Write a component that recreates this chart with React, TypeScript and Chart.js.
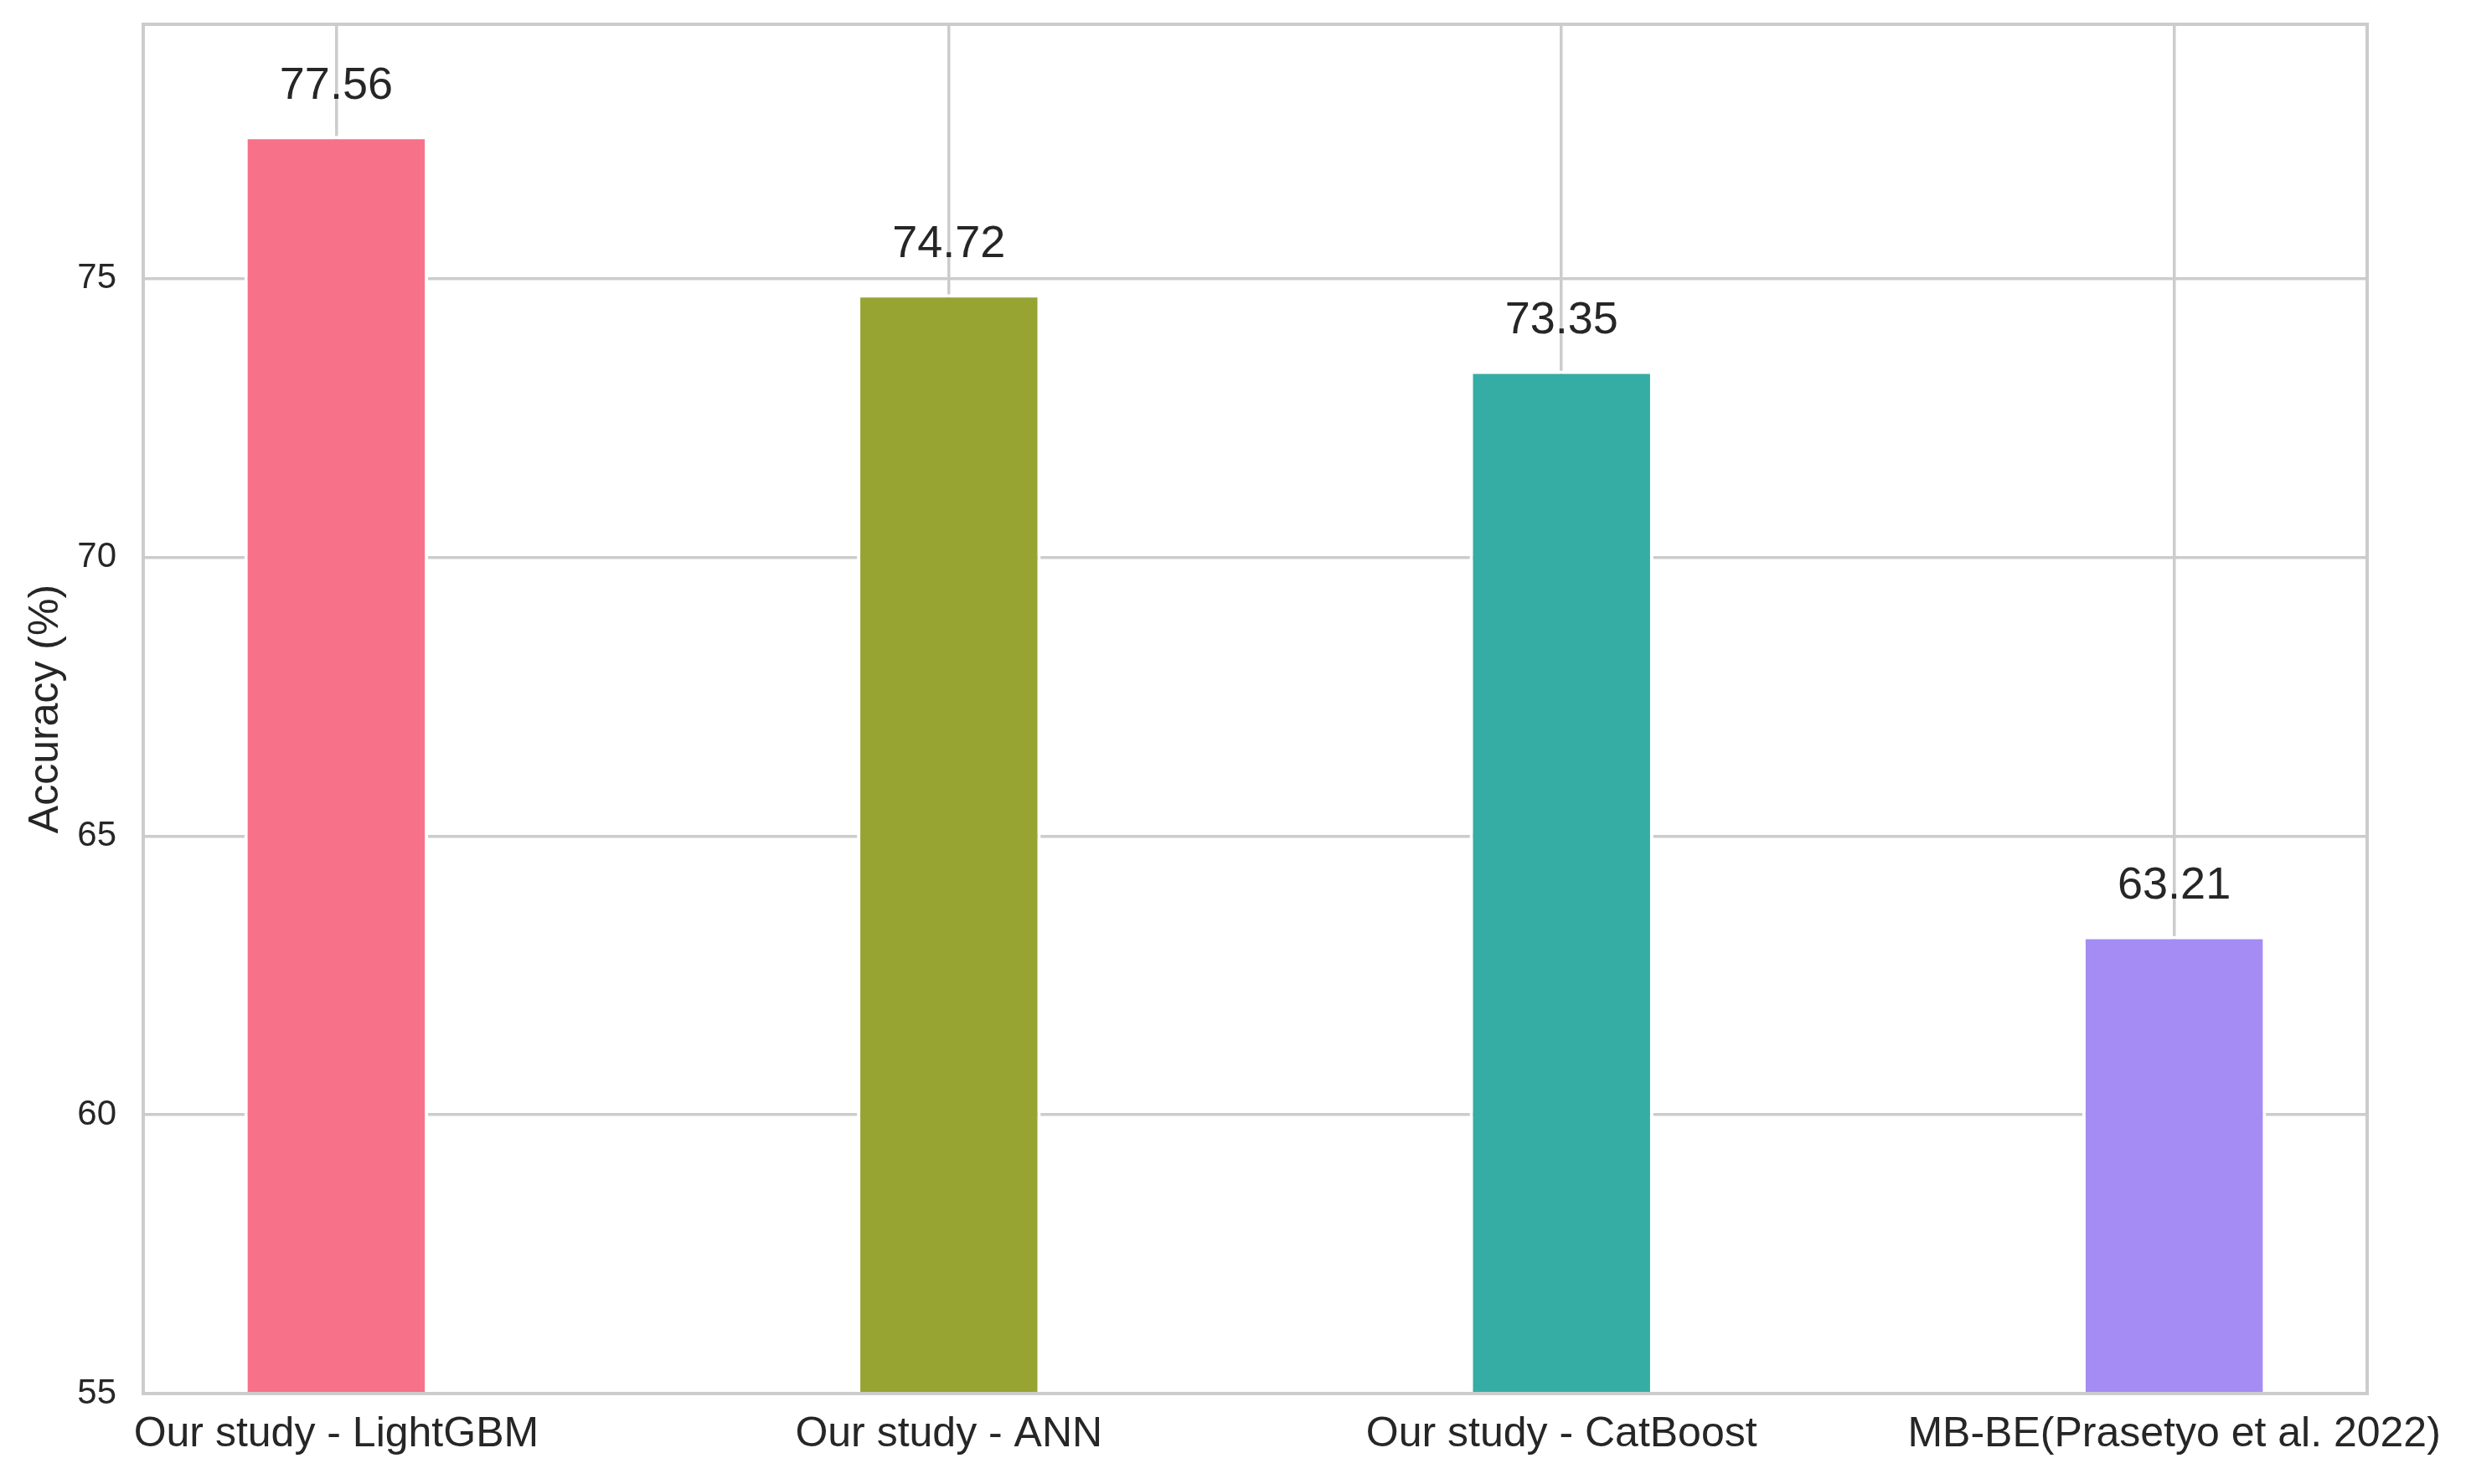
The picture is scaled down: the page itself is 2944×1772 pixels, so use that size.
import React, { useEffect, useRef } from "react";
import { Chart, registerables } from "chart.js";

Chart.register(...registerables);

const categories = [
  "Our study - LightGBM",
  "Our study - ANN",
  "Our study - CatBoost",
  "MB-BE(Prasetyo et al. 2022)",
];
const accuracy = [77.56, 74.72, 73.35, 63.21];
const barColors = ["#f77189", "#97a431", "#36ada4", "#a48cf4"];
const yTicks = [55, 60, 65, 70, 75];
const yMin = 55;
const yMax = 79.56;
const barWidth = 0.3;

const W = 2944;
const H = 1772;
const FONT = "'Liberation Sans', Arial, sans-serif";
const TEXT = "#262626";
const GRID = "#cccccc";

const xPad = 0.05 * (categories.length - 1 + barWidth);
const xMin = -barWidth / 2 - xPad;
const xMax = categories.length - 1 + barWidth / 2 + xPad;

const framePlugin = {
  id: "frame",
  afterDatasetsDraw(chart: any) {
    const { ctx, chartArea } = chart;
    ctx.save();
    ctx.strokeStyle = GRID;
    ctx.lineWidth = 4;
    ctx.strokeRect(chartArea.left, chartArea.top, chartArea.right - chartArea.left, chartArea.bottom - chartArea.top);
    ctx.restore();
  },
};

const valueLabelPlugin = {
  id: "valueLabels",
  afterDatasetsDraw(chart: any) {
    const { ctx } = chart;
    const meta = chart.getDatasetMeta(0);
    ctx.save();
    ctx.fillStyle = TEXT;
    ctx.font = `54px ${FONT}`;
    ctx.textAlign = "center";
    ctx.textBaseline = "alphabetic";
    meta.data.forEach((el: any, i: number) => {
      ctx.fillText(accuracy[i].toFixed(2), el.x, el.y - 44);
    });
    ctx.restore();
  },
};

export default function App() {
  const ref = useRef<HTMLCanvasElement | null>(null);

  useEffect(() => {
    document.body.style.margin = "0";
    const canvas = ref.current;
    if (!canvas) return;
    const chart = new Chart(canvas, {
      type: "bar",
      data: {
        datasets: [
          {
            data: accuracy.map((v, i) => ({ x: i, y: v })),
            backgroundColor: barColors,
            borderColor: "#ffffff",
            borderWidth: 4,
            categoryPercentage: 1,
            barPercentage: barWidth,
          },
        ],
      },
      options: {
        animation: false,
        responsive: false,
        devicePixelRatio: 1,
        events: [],
        layout: { padding: { left: 0, top: 29, right: 118, bottom: 0 } },
        plugins: {
          legend: { display: false },
          tooltip: { enabled: false },
          title: { display: false },
        },
        scales: {
          x: {
            type: "linear",
            min: xMin,
            max: xMax,
            offset: false,
            afterBuildTicks: (axis: any) => {
              axis.ticks = categories.map((_, i) => ({ value: i }));
            },
            afterFit: (scale: any) => {
              scale.height = H - 1664;
              scale.paddingLeft = 0;
              scale.paddingRight = 0;
            },
            grid: { color: GRID, lineWidth: 3.5, drawTicks: false, offset: false },
            border: { display: false },
            ticks: {
              autoSkip: false,
              maxRotation: 0,
              minRotation: 0,
              padding: 19,
              color: TEXT,
              font: { family: FONT, size: 50 },
              callback: (value: any) => categories[value] ?? "",
            },
          },
          y: {
            type: "linear",
            min: yMin,
            max: yMax,
            afterBuildTicks: (axis: any) => {
              axis.ticks = yTicks.map((v) => ({ value: v }));
            },
            afterFit: (scale: any) => {
              scale.width = 171;
              scale.paddingTop = 0;
              scale.paddingBottom = 0;
            },
            grid: { color: GRID, lineWidth: 3.5, drawTicks: false },
            border: { display: false },
            ticks: {
              padding: 32,
              color: TEXT,
              font: { family: FONT, size: 42 },
              callback: (value: any) => String(value),
            },
            title: {
              display: true,
              text: "Accuracy (%)",
              color: TEXT,
              font: { family: FONT, size: 50, lineHeight: 1.2 },
              padding: { top: 25, bottom: 0 },
            },
          },
        },
      },
      plugins: [framePlugin, valueLabelPlugin],
    } as any);
    return () => chart.destroy();
  }, []);

  return (
    <div style={{ position: "fixed", left: 0, top: 0, width: W, height: H, background: "#ffffff" }}>
      <canvas ref={ref} width={W} height={H} style={{ width: W, height: H, display: "block" }} />
    </div>
  );
}
